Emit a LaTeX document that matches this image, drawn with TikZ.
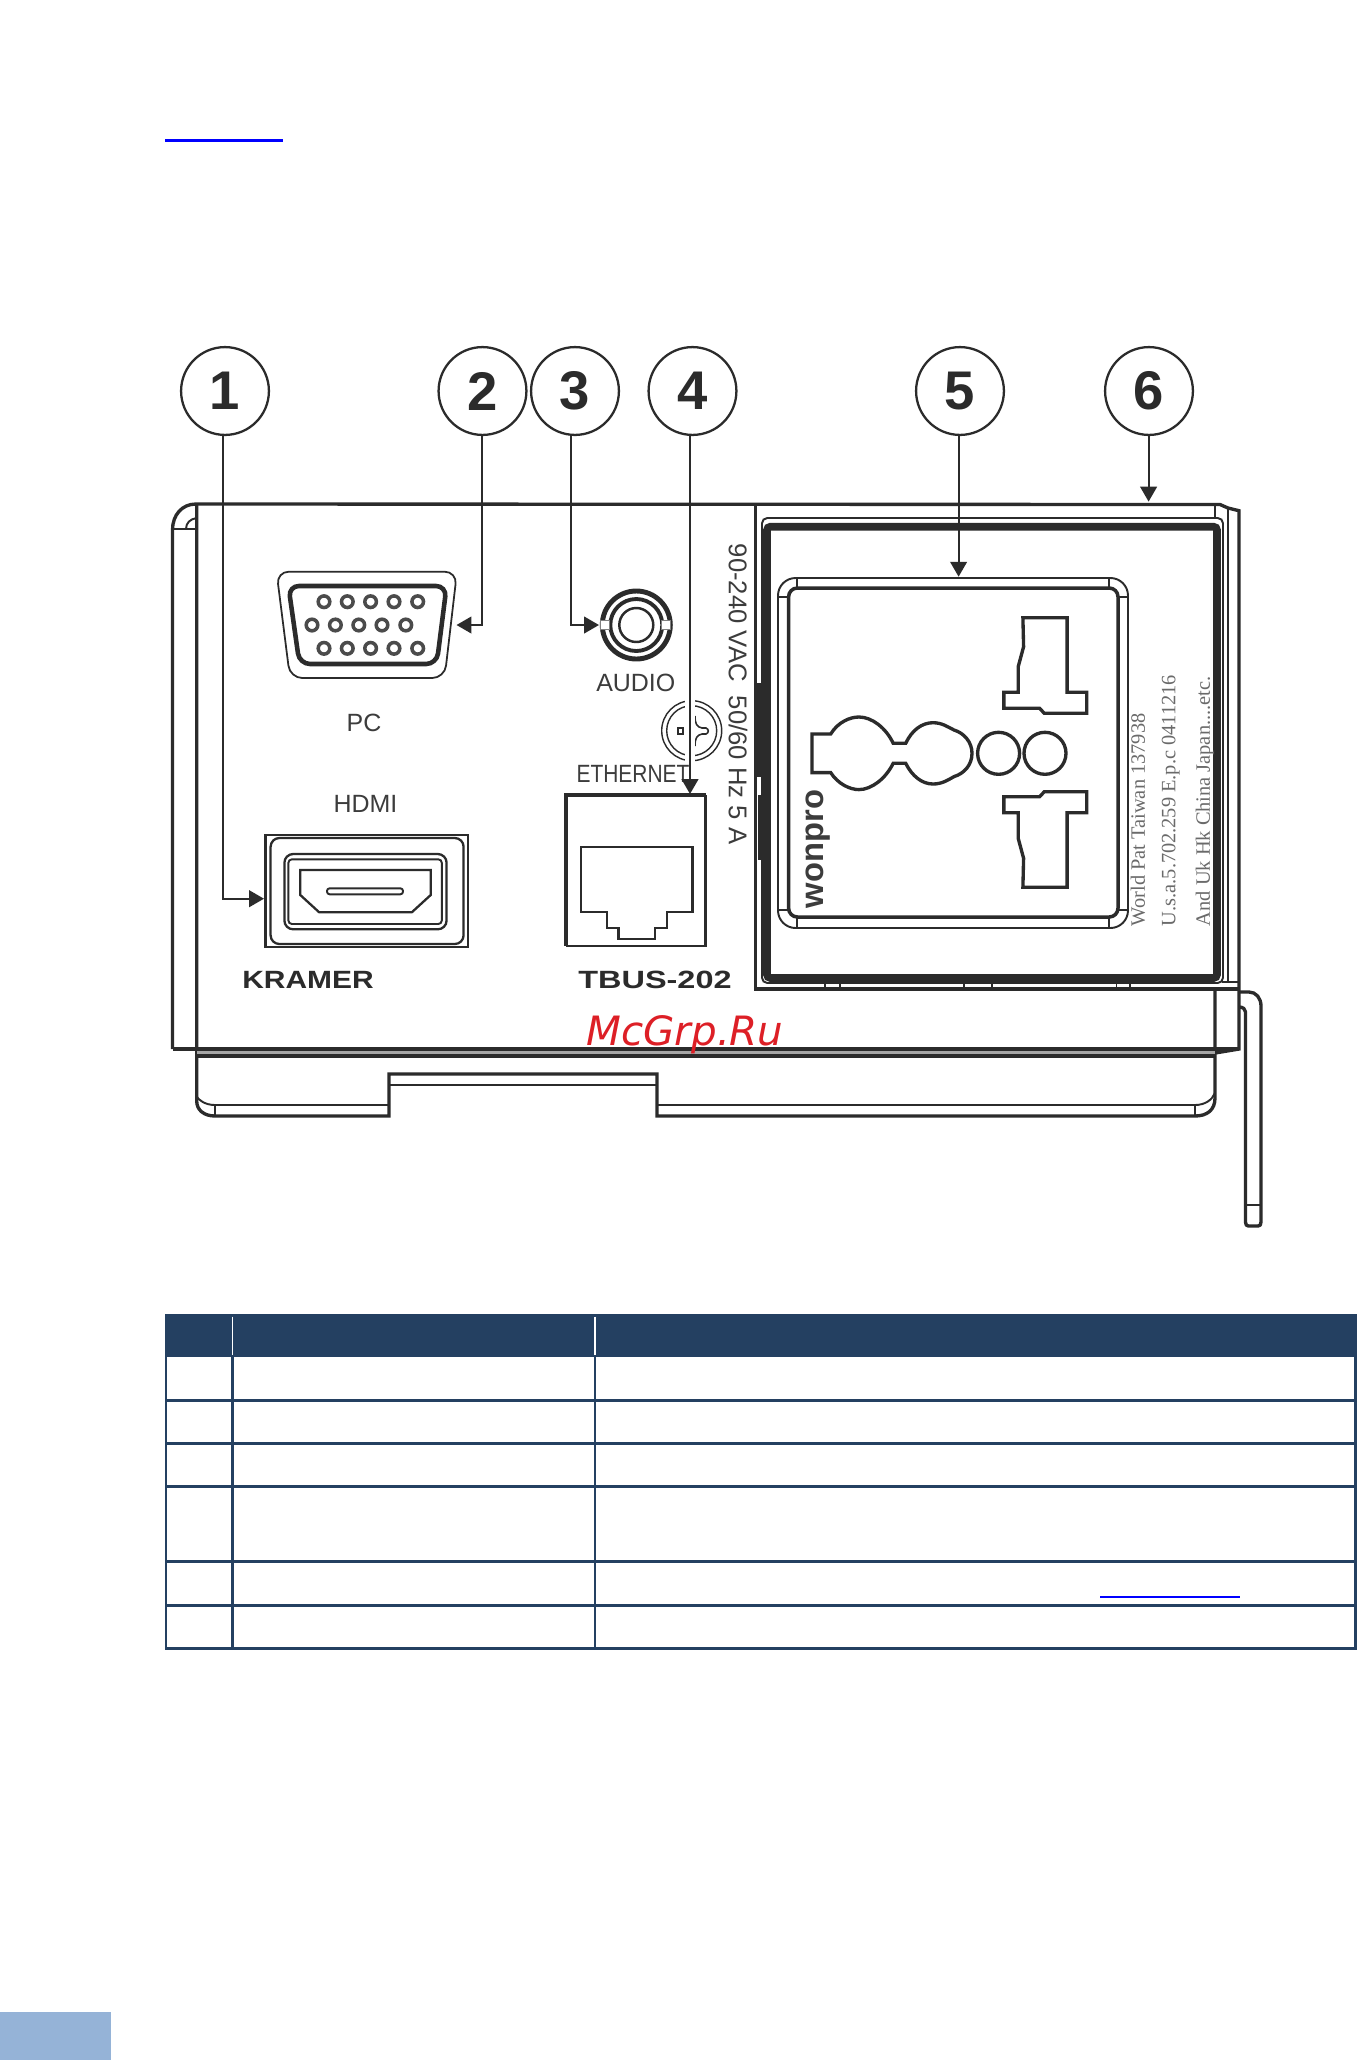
\documentclass[tikz,border=0pt]{standalone}
\usepackage{fontspec}
\setmainfont{Liberation Sans}
\newfontfamily\notefont{Liberation Serif}
\newfontfamily\markfont{DejaVu Sans}
\usetikzlibrary{arrows.meta}
\definecolor{ink}{HTML}{2B2B2B}
\definecolor{labelink}{HTML}{3C3C3C}
\definecolor{noteink}{HTML}{6A6A6A}
\definecolor{tablecol}{HTML}{244061}
\definecolor{tabcol}{HTML}{95B3D7}
\definecolor{markred}{HTML}{DD1F26}
\newcommand{\fsz}[1]{\fontsize{#1}{#1}\selectfont}
\tikzset{
  numcirc/.style={circle,draw=ink,line width=1.3pt,minimum size=50pt,inner sep=0pt,
    text=ink,font=\fsz{31}\bfseries},
  leader/.style={ink,line width=1.15pt,-{Triangle[length=8.5pt,width=9.5pt]}},
  labeltext/.style={inner sep=0pt,text=labelink,font=\fsz{14.2}},
  brandtext/.style={inner sep=0pt,text=ink,font=\fsz{14.2}\bfseries,transform shape},
  notetext/.style={inner sep=0pt,text=noteink,font=\notefont\fsz{11.6},rotate=90,anchor=west},
  thinl/.style={ink,line width=1.1pt},
  midl/.style={ink,line width=1.9pt},
  thickl/.style={ink,line width=2.3pt},
  framel/.style={ink,line width=4.4pt},
  rule/.style={tablecol,line width=1.7pt},
  linkl/.style={blue,line width=1.5pt}
}
\begin{document}
\begin{tikzpicture}[x=.02cm,y=-.02cm]
\useasboundingbox (0,0) rectangle (1357,2060);
\fill[white] (0,0) rectangle (1357,2060);

% link and page tab
\coordinate (linka) at (165,140.3);
\coordinate (linkb) at (283,140.3);
\draw[blue,line width=1.7pt] (linka) -- (linkb);
\fill[tabcol] (0,2012) rectangle (111,2060);

% body
\draw[midl] (172.5,1049) -- (172.5,530) .. controls (172.5,515) and (182,504) .. (196,504) -- (1220,504.5) -- (1228,508) -- (1239,510.7) -- (1239,1049) -- (1215,1053);
\draw[thinl] (172.5,529) -- (196.7,529);
\draw[thinl] (186,529) .. controls (186,523) and (190,519) .. (196.7,518);
\draw[midl] (196.7,504) -- (196.7,1101) .. controls (196.7,1110) and (204,1116) .. (215,1116) -- (389,1116) -- (389,1074) -- (657,1074) -- (657,1116) -- (1195,1116) .. controls (1207,1116) and (1215,1110) .. (1215,1098) -- (1215,989);
\draw[thinl] (197,1097) .. controls (199,1100) and (205,1105) .. (215,1105) -- (389,1105);
\draw[thinl] (657,1105) -- (1195,1105) .. controls (1205,1105) and (1212,1100) .. (1215,1093);
\draw[thinl] (215,1105) -- (215,1116);
\draw[thinl] (1195,1105) -- (1195,1116);
\draw[thinl] (389,1085) -- (657,1085);
\fill[gray!70] (196.7,1049) rectangle (1215,1056);
\draw[midl] (172.5,1049) -- (1239,1049);
\draw[midl] (196.7,1056) -- (1215,1056);

% handle
\draw[midl,line join=round] (1239,992) -- (1249,992) .. controls (1256,992) and (1261,998) .. (1261,1006) -- (1261,1222) .. controls (1261,1225) and (1260,1226) .. (1258,1226) -- (1248.5,1226) .. controls (1246.5,1226) and (1245.5,1225) .. (1245.5,1222) -- (1245.5,1012) .. controls (1245.5,1009) and (1243,1007) .. (1239,1007);
\draw[thinl] (1245.5,1205) -- (1261,1205);

% panel
\draw[midl] (755.7,504) -- (755.7,989) -- (1239,989);
\draw[thinl] (1215,505) -- (1215,518);
\draw[thinl] (1228,508) -- (1228,982) -- (1222,982);
\draw[thinl] (1228,982) -- (1239,982);
\draw[thinl,rounded corners=3pt] (762,518) rectangle (1223,983);
\draw[framel,rounded corners=2pt] (767,526.7) rectangle (1217,978);
\fill[ink] (757,683) rectangle (763,777);
\fill[ink] (758,795) rectangle (763,860);
\foreach \xa in {825.3,839.6,964,992,1116.5,1130}
  \draw[thinl] (\xa,983) -- (\xa,989);

% socket
\draw[thinl,rounded corners=10pt] (778,578) rectangle (1128,928);
\draw[ink,line width=2pt,rounded corners=5pt] (788.6,588) rectangle (1118,917);
\foreach \xa in {796.8,1109.3}{
  \draw[thinl] (\xa,578) -- (\xa,588);
  \draw[thinl] (\xa,917) -- (\xa,928);
}
\foreach \xa/\xb in {778/788.6,1118/1128}{
  \draw[thinl] (\xa,596.7) -- (\xb,596.7);
  \draw[thinl] (\xa,910) -- (\xb,910);
}
\draw[midl] (1022.9,617.7) -- (1067.1,617.7) -- (1067.1,692.3) -- (1086.8,692.3) -- (1086.8,713.3) -- (1044.3,713.3) -- (1039.6,708.3) -- (1003.9,708.3) -- (1003.9,692.3) -- (1018.2,692.3) -- (1018.2,666.7) -- (1023.6,646.7) -- cycle;
\draw[midl] (1022.9,887.3) -- (1067.1,887.3) -- (1067.1,812.7) -- (1086.8,812.7) -- (1086.8,791.7) -- (1044.3,791.7) -- (1039.6,796.7) -- (1003.9,796.7) -- (1003.9,812.7) -- (1018.2,812.7) -- (1018.2,838.3) -- (1023.6,858.3) -- cycle;
\draw[midl] (998.6,753.3) circle (21);
\draw[midl] (1045,753.3) circle (21);
\draw[midl] (812,734) -- (830.7,734) .. controls (838,722) and (850,717) .. (859,717) .. controls (872,717) and (886,728) .. (893.2,743.3) -- (905.7,743.3) .. controls (912,730) and (922,722.7) .. (933,722.7) .. controls (942,722.7) and (948,727) .. (954,730) .. controls (964,733) and (972,742) .. (972,753.3) .. controls (972,765) and (964,773.6) .. (954,776.6) .. controls (948,780) and (942,784) .. (933,784) .. controls (922,784) and (912,776) .. (905.7,763.3) -- (893.2,763.3) .. controls (886,778) and (872,789.6) .. (859,789.6) .. controls (850,789.6) and (838,784) .. (830.7,772.6) -- (812,772.6) -- cycle;
\node[inner sep=0pt,rotate=90,text=labelink,font=\fsz{18.6}\bfseries] (brand) at (818,849) {wonpro};
\node[notetext] (patA) at (1138,926.5) {World Pat Taiwan 137938};
\node[notetext] (patB) at (1170.7,926.5) {U.s.a.5.702.259 E.p.c 0411216};
\node[notetext] (patC) at (1205,926.5) {And Uk Hk China Japan....etc.};
\node[labeltext,font=\fsz{14.6},rotate=-90] (rating) at (738,694) {90-240 VAC\ \ 50/60 Hz 5 A};

% PC port
\draw[thinl,line width=1pt,rounded corners=7pt] (276.5,571.7) -- (457,571.7) -- (444.6,678) -- (290,678) -- cycle;
\draw[thickl,line width=2.6pt,rounded corners=6pt] (288.4,586) -- (446.6,586) -- (436.7,664) -- (299.5,664) -- cycle;
\foreach \xa in {324,347.3,370.6,394,417.7}{
  \draw[ink!85,line width=2pt] (\xa,601.7) circle (5.8);
  \draw[ink!85,line width=2pt] (\xa,648.3) circle (5.8);
}
\foreach \xa in {312,335.4,358.8,382,405.8}
  \draw[ink!85,line width=2pt] (\xa,625) circle (5.8);
\node[labeltext] (pc) at (364,723) {PC};

% audio jack
\draw[ink,line width=2.8pt] (636.3,625) circle (34);
\draw[ink,line width=2.2pt] (636.3,625) circle (26);
\draw[ink,line width=1.4pt] (636.3,625) circle (17);
\draw[gray,fill=white,line width=.6pt] (600.7,620.7) rectangle (609.3,629.3);
\draw[gray,fill=white,line width=.6pt] (661.7,620.7) rectangle (670.7,629.3);
\node[labeltext] (audio) at (635.8,682.7) {AUDIO};

% ground mark
\draw[ink,line width=.8pt] (691.7,730.7) circle (30);
\draw[ink,line width=.8pt] (691.7,730.7) circle (25);
\draw[thinl,line width=.9pt] (678,728) rectangle (683,734);
\draw[thinl,line width=.9pt] (695,716) .. controls (695,724) and (697,727) .. (702,728) -- (706,728) .. controls (709,729) and (709,733) .. (706,734) -- (702,734) .. controls (697,735) and (695,738) .. (695,746);
\fill[white] (685,698) rectangle (695,794);

% ethernet port
\draw[midl] (705.5,795) -- (566,795) -- (566,946);
\draw[thinl,line width=1.3pt] (705.5,795) -- (705.5,946) -- (566,946);
\draw[thinl,line width=1.3pt] (581,846.7) -- (692.5,846.7) -- (692.5,911.7) -- (667.2,911.7) -- (667.2,927.7) -- (655.3,927.7) -- (655.3,939.3) -- (618.6,939.3) -- (618.6,927.7) -- (606.7,927.7) -- (606.7,911.7) -- (581,911.7) -- cycle;
\node[labeltext,transform shape,xscale=.84] (eth) at (633,774) {ETHERNET};

% HDMI port
\draw[thinl,line width=1.3pt] (265.5,835) rectangle (468.3,946.7);
\draw[thinl,line width=1.3pt,rounded corners=5pt] (270.6,838) rectangle (463.6,944);
\draw[thinl,line width=1.3pt,rounded corners=5pt] (284.4,854) rectangle (446.6,929.3);
\draw[thinl,rounded corners=2pt] (288.4,859.3) rectangle (441.8,924);
\draw[thinl,line width=1.3pt] (300.3,870) -- (430.7,870) -- (430.7,895) -- (411.8,912.3) -- (319.2,912.3) -- (300.3,895) -- cycle;
\draw[thinl,rounded corners=1.5pt] (327,888.3) rectangle (403,894.3);
\node[labeltext] (hdmi) at (365.5,804) {HDMI};

% names printed on the unit
\node[brandtext,xscale=1.2] (kramer) at (308,980) {KRAMER};
\node[brandtext,xscale=1.3] (tbus) at (655,980) {TBUS-202};
\node[inner sep=0pt,anchor=base west,text=markred,font=\markfont\itshape\fsz{23}] (mark) at (586,1045) {McGrp.Ru};

% numbered callouts
\node[numcirc] (c1) at (225,391) {1};
\node[numcirc] (c2) at (482.5,391) {2};
\node[numcirc] (c3) at (575,391) {3};
\node[numcirc] (c4) at (692.5,391) {4};
\node[numcirc] (c5) at (960,391) {5};
\node[numcirc] (c6) at (1149,391) {6};
\coordinate (b1) at (223,898.7);
\coordinate (t1) at (264,898.7);
\coordinate (b2) at (482,625);
\coordinate (t2) at (456.5,625);
\coordinate (b3) at (571,625);
\coordinate (t3) at (599,625);
\coordinate (t4) at (690,794);
\coordinate (t5) at (958.6,576.7);
\coordinate (t6) at (1148.6,501.6);
\draw[leader] (c1.south -| b1) -- (b1) -- (t1);
\draw[leader] (c2.south -| b2) -- (b2) -- (t2);
\draw[leader] (c3.south -| b3) -- (b3) -- (t3);
\draw[leader] (c4.south -| t4) -- (t4);
\draw[leader] (c5.south -| t5) -- (t5);
\draw[leader] (c6.south -| t6) -- (t6);

% table
\fill[tablecol] (165,1314) rectangle (1357,1357);
\foreach \xa in {232.5,595}{
  \draw[white,line width=1.1pt] (\xa,1316.7) -- (\xa,1355);
  \draw[rule,line width=1.5pt] (\xa,1357) -- (\xa,1648);
}
\draw[rule] (166,1357) -- (166,1648);
\draw[rule] (1355.5,1357) -- (1355.5,1648);
\foreach \ya in {1400.5,1443.5,1486.5,1561.5,1605,1648}
  \draw[rule] (165,\ya) -- (1357,\ya);
\coordinate (linkc) at (1100,1597);
\coordinate (linkd) at (1240,1597);
\draw[linkl] (linkc) -- (linkd);
\end{tikzpicture}
\end{document}
